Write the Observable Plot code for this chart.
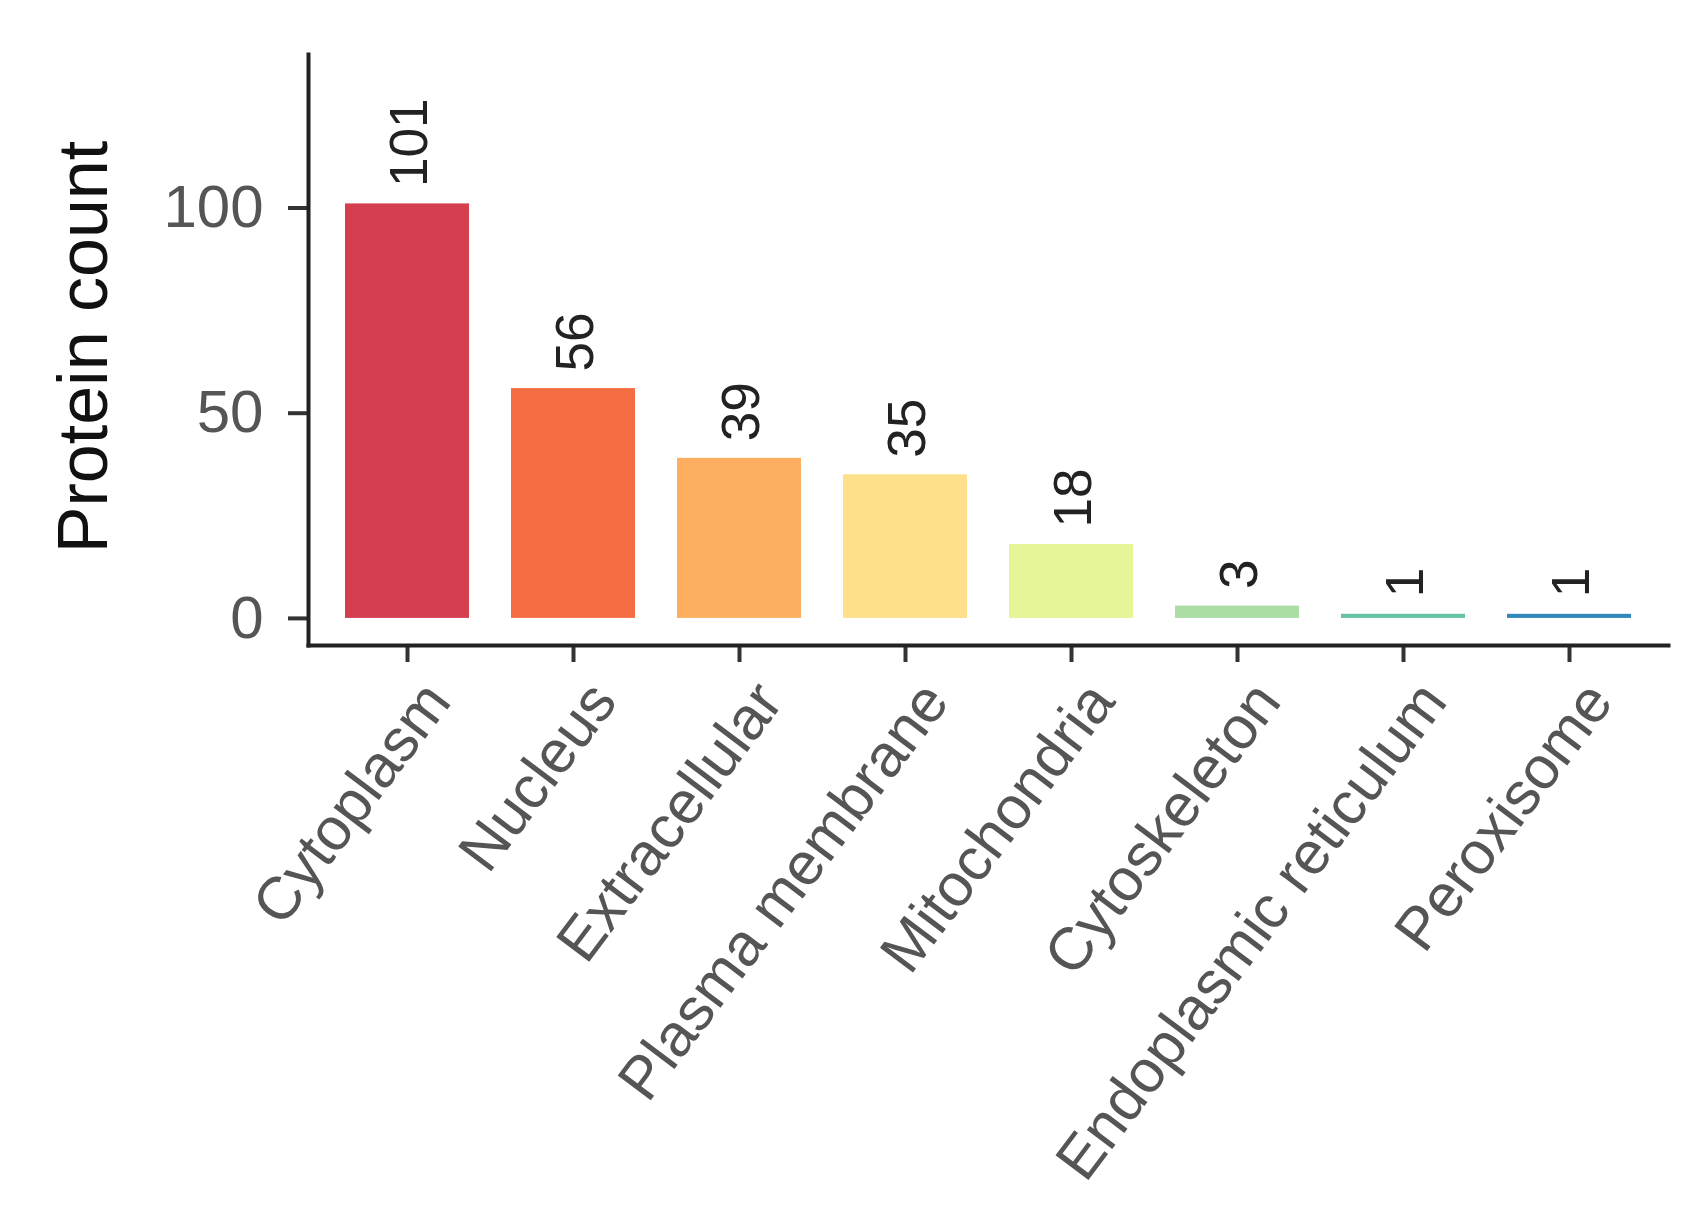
<!DOCTYPE html>
<html><head><meta charset="utf-8">
<script src="https://cdn.jsdelivr.net/npm/d3@7"></script>
<script src="https://cdn.jsdelivr.net/npm/@observablehq/plot@0.6"></script>
<style>body{margin:0;background:#fff}</style>
</head><body><div id="chart"></div>
<script>
const categories = ["Cytoplasm","Nucleus","Extracellular","Plasma membrane","Mitochondria","Cytoskeleton","Endoplasmic reticulum","Peroxisome"];
const counts = [101,56,39,35,18,3,1,1];
const colors = ["#D53E4F","#F46D43","#FDAE61","#FEE08B","#E6F598","#ABDDA4","#66C2A5","#3288BD"];
const yTicks = [0,50,100];
const yLabel = "Protein count";

const data = categories.map((c,i)=>({category:c, count:counts[i]}));

const chart = Plot.plot({
  width:1690, height:1210,
  marginLeft:308, marginRight:22, marginTop:54, marginBottom:565,
  style:{fontFamily:"'Liberation Sans', Arial, sans-serif", background:"#fff", color:"#333"},
  x:{domain:categories, paddingInner:0.254, paddingOuter:0.218, label:null},
  y:{domain:[-6.6,137.4], label:null},
  color:{domain:categories, range:colors},
  marks:[
    Plot.barY(data,{x:"category", y:"count", fill:"category"}),
    Plot.text(data,{x:"category", y:"count", text:d=>String(d.count), rotate:-90, textAnchor:"start", lineAnchor:"middle", dy:-17, dx:3, fontSize:53, fill:"#222"}),
    Plot.axisY({ticks:yTicks, tickSize:20, tickPadding:25, fontSize:60, fill:"#555", stroke:"#333", strokeWidth:4, label:null}),
    Plot.axisX({tickSize:17, tickFormat:null, stroke:"#333", strokeWidth:4, label:null}),
    Plot.axisX({tickSize:0, tickPadding:45, tickRotate:-53, dx:30, fontSize:60, fill:"#555", label:null}),
    Plot.frame({anchor:"left", stroke:"#222", strokeWidth:4}),
    Plot.frame({anchor:"bottom", stroke:"#222", strokeWidth:4}),
    Plot.text([yLabel],{frameAnchor:"left", rotate:-90, textAnchor:"middle", lineAnchor:"middle", dx:-224, dy:-3, fontSize:70, fill:"#111"})
  ]
});
document.getElementById("chart").appendChild(chart);
</script>
</body></html>
